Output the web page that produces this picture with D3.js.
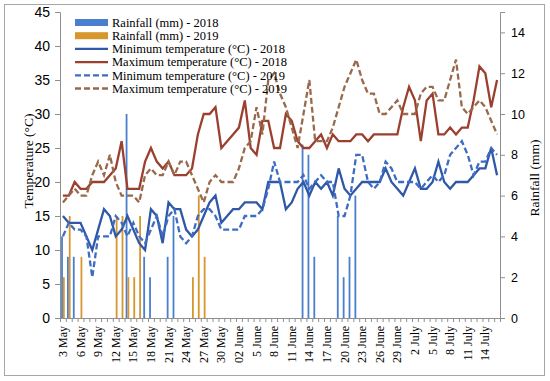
<!DOCTYPE html>
<html lang="en">
<head>
<meta charset="UTF-8">
<title>Temperature and rainfall 2018-2019</title>
<script src="https://cdn.jsdelivr.net/npm/d3@7"></script>
<style>
    body { margin: 0; background: #fff; }
    svg { display: block; font-family: "Liberation Serif", "Times New Roman", serif; }
    .axis path, .axis line { stroke: #8f8f8f; }
    .axis text { fill: #000; }
</style>
</head>
<body>
<script>

    // x tick labels, one every 3 days starting 3 May
    var tickLabels = ["3 May", "6 May", "9 May", "12 May", "15 May", "18 May", "21 May", "24 May", "27 May",
        "30 May", "02 June", "5 June", "8 June", "11 June", "14 June", "17 June", "20 June", "23 June",
        "26 June", "29 June", "2 July", "5 July", "8 July", "11 July", "14 July"];

    // daily values, 3 May .. 16 July (75 days)
    var rain2018 = [4,3,3,0,0,0,0,0,0,0, 0,10,0,0,3,2,0,0,3,5, 0,0,0,0,0,0,0,0,0,0,
        0,0,0,0,0,0,0,0,0,0, 0,8.5,8,3,0,0,0,5,2,3, 6,0,0,0,0,0,0,0,0,0,
        0,0,0,0,0,0,0,0,0,0, 0,0,0,0,0];
    var rain2019 = [2,5,0,3,0,0,0,0,0,5, 5,2,2,5,0,0,0,0,0,0, 0,0,2,6,3,0,0,0,0,0,
        0,0,0,0,0,0,0,0,0,0, 0,0,0,0,0,0,0,0,0,0, 0,0,0,0,0,0,0,0,0,0,
        0,0,0,0,0,0,0,0,0,0, 0,0,0,0,0];
    var min2018 = [15,14,14,14,12,10,13,16,15,12, 13,15,13,11,10,16,15,11,17,16,
        16,13,12,13,15,17,18,14,15,16, 16,17,17,17,16,20,20,20,16,17,
        19,20,18,20,19,20,18,22,19,18, 19,20,20,20,20,22,20,19,18,20,
        22,19,19,20,23,20,19,20,20,20, 21,22,22,25,21];
    var max2018 = [18,18,20,19,19,20,20,20,21,22, 26,19,19,19,23,25,23,22,23,21,
        21,21,22,27,30,30,31,25,26,27, 28,32,25,24,29,29,25,25,30,29,
        26,25,25,26,27,25,27,26,26,26, 27,27,26,27,27,27,27,27,31,34,
        32,26,32,33,27,27,28,27,28,28, 32,37,36,31,35];
    var min2019 = [12,14,13,13,12,6,12,12,12,15, 14,12,14,12,11,13,15,12,15,16,
        12,11,12,15,16,16,15,13,13,13, 13,15,15,15,16,19,23,20,20,20,
        20,21,19,20,21,20,20,15,15,18, 24,24,20,19,20,23,22,20,20,20,
        20,19,20,21,20,21,24,25,26,24, 21,23,23,25,24];
    var max2019 = [17,18,19,18,18,21,23,21,24,20, 18,18,18,17,21,22,21,21,23,21,
        23,23,21,19,17,20,21,20,20,20, 22,25,26,31,27,35,36,33,31,28,
        25,30,35,26,26,26,28,31,34,36, 38,35,33,33,30,30,31,32,30,30,
        30,33,34,34,32,32,35,38,31,30, 31,32,31,29,27];

    var width = 550, height = 381;
    var margin = {top: 12, right: 50, bottom: 63, left: 60};
    var plotRight = width - margin.right, plotBottom = height - margin.bottom;
    var days = d3.range(rain2018.length);

    var svg = d3.select("body").append("svg")
            .attr("width", width)
            .attr("height", height);

    // chart border
    svg.append("rect")
            .attr("x", 4.5).attr("y", 4.5)
            .attr("width", 540).attr("height", 371)
            .attr("fill", "none")
            .attr("stroke", "#a6a6a6");

    var x = d3.scalePoint().domain(days).range([margin.left, plotRight]).padding(0.5);
    var xEdge = d3.scaleLinear().domain([0, days.length]).range([margin.left, plotRight]);
    var yT = d3.scaleLinear().domain([0, 45]).range([plotBottom, margin.top]);
    var yR = d3.scaleLinear().domain([0, 15]).range([plotBottom, margin.top]);

    var barW = 1.8;

    // rainfall bars
    svg.append("g").selectAll("rect")
            .data(days.filter(function (i) { return rain2018[i] > 0; }))
            .enter().append("rect")
            .attr("x", function (i) { return x(i) - barW; })
            .attr("y", function (i) { return yR(rain2018[i]); })
            .attr("width", barW)
            .attr("height", function (i) { return yR(0) - yR(rain2018[i]); })
            .attr("fill", "#4a7fd0");

    svg.append("g").selectAll("rect")
            .data(days.filter(function (i) { return rain2019[i] > 0; }))
            .enter().append("rect")
            .attr("x", function (i) { return x(i); })
            .attr("y", function (i) { return yR(rain2019[i]); })
            .attr("width", barW)
            .attr("height", function (i) { return yR(0) - yR(rain2019[i]); })
            .attr("fill", "#d8962e");

    // temperature lines
    var series = [
        {values: min2018, color: "#2f58a8", dash: null},
        {values: max2018, color: "#9b3f2e", dash: null},
        {values: min2019, color: "#3f6cc2", dash: "6,3"},
        {values: max2019, color: "#98694b", dash: "6,3"}
    ];

    series.forEach(function (s) {
        var line = d3.line()
                .x(function (d, i) { return x(i); })
                .y(function (d) { return yT(d); });
        svg.append("path")
                .datum(s.values)
                .attr("d", line)
                .attr("fill", "none")
                .attr("stroke", s.color)
                .attr("stroke-width", 2.3)
                .attr("stroke-dasharray", s.dash);
    });

    // axes
    var leftAxis = svg.append("g")
            .attr("class", "axis")
            .attr("transform", "translate(" + margin.left + ",0)")
            .call(d3.axisLeft(yT).tickValues(d3.range(0, 46, 5)).tickSizeOuter(0).tickSize(5).tickPadding(5));
    leftAxis.selectAll("text").style("font-size", "14px");

    var rightAxis = svg.append("g")
            .attr("class", "axis")
            .attr("transform", "translate(" + plotRight + ",0)")
            .call(d3.axisRight(yR).tickValues(d3.range(0, 15, 2)).tickSizeOuter(0).tickSize(5).tickPadding(6));
    rightAxis.selectAll("text").style("font-size", "12.5px");

    svg.append("g")
            .attr("class", "axis")
            .attr("transform", "translate(0," + plotBottom + ")")
            .call(d3.axisBottom(xEdge).tickValues(d3.range(days.length + 1)).tickFormat("").tickSizeOuter(0).tickSize(4));

    svg.append("g").selectAll("text")
            .data(tickLabels)
            .enter().append("text")
            .attr("transform", function (d, i) {
                return "translate(" + (x(i * 3) + 4) + "," + (plotBottom + 8) + ") rotate(-90)";
            })
            .attr("text-anchor", "end")
            .style("font-size", "12px")
            .text(function (d) { return d; });

    // axis titles
    svg.append("text")
            .attr("transform", "translate(32.5,161) rotate(-90)")
            .attr("text-anchor", "middle")
            .style("font-size", "13.5px")
            .text("Temperature (°C)");

    svg.append("text")
            .attr("transform", "translate(539,178) rotate(-90)")
            .attr("text-anchor", "middle")
            .style("font-size", "13.5px")
            .text("Rainfall (mm)");

    // legend
    var legendItems = [
        {label: "Rainfall (mm) - 2018", color: "#4a7fd0", type: "bar"},
        {label: "Rainfall (mm) - 2019", color: "#d8962e", type: "bar"},
        {label: "Minimum temperature (°C) - 2018", color: "#2f58a8", type: "line", dash: null},
        {label: "Maximum temperature (°C) - 2018", color: "#9b3f2e", type: "line", dash: null},
        {label: "Minimum temperature (°C) - 2019", color: "#3f6cc2", type: "line", dash: "6,3"},
        {label: "Maximum temperature (°C) - 2019", color: "#98694b", type: "line", dash: "6,3"}
    ];

    var legend = svg.append("g").selectAll("g")
            .data(legendItems)
            .enter().append("g")
            .attr("transform", function (d, i) { return "translate(75," + (22.5 + i * 13.2) + ")"; });

    legend.filter(function (d) { return d.type == "bar"; })
            .append("rect")
            .attr("x", 0).attr("y", -3.5)
            .attr("width", 33).attr("height", 7)
            .attr("fill", function (d) { return d.color; });

    legend.filter(function (d) { return d.type == "line"; })
            .append("line")
            .attr("x1", 0).attr("x2", 33)
            .attr("stroke", function (d) { return d.color; })
            .attr("stroke-width", 2.3)
            .attr("stroke-dasharray", function (d) { return d.dash; });

    legend.append("text")
            .attr("x", 37)
            .attr("dy", "0.35em")
            .style("font-size", "12.5px")
            .text(function (d) { return d.label; });

</script>
</body>
</html>
